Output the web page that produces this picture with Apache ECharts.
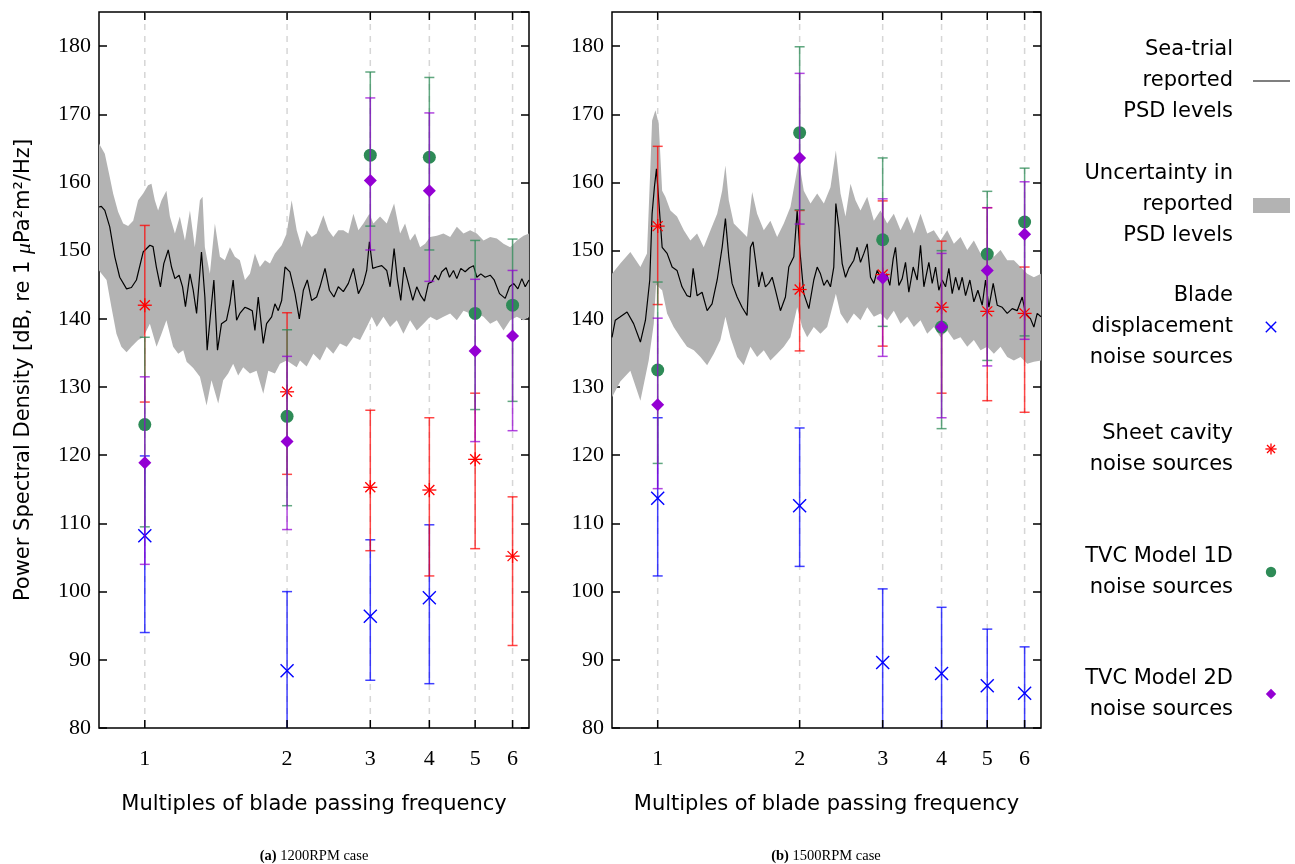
<!DOCTYPE html>
<html>
<head>
<meta charset="utf-8">
<script src="https://cdn.jsdelivr.net/npm/echarts@6.0.0/dist/echarts.min.js"></script>
<style>
html,body{margin:0;padding:0;background:#ffffff;}
#chart{width:1295px;height:864px;}
</style>
</head>
<body>
<div id="chart"></div>
<script>
// ---------------- DATA ----------------
const harmonics = [1, 2, 3, 4, 5, 6];
const yTickValues = [80, 90, 100, 110, 120, 130, 140, 150, 160, 170, 180];
const panelCaptions = ['1200RPM case', '1500RPM case'];
const legendLabels = [
  'Sea-trial\nreported\nPSD levels',
  'Uncertainty in\nreported\nPSD levels',
  'Blade\ndisplacement\nnoise sources',
  'Sheet cavity\nnoise sources',
  'TVC Model 1D\nnoise sources',
  'TVC Model 2D\nnoise sources'
];

// (a) 1200 RPM : sea-trial PSD  [multiple of BPF, dB]
const psdA = [[0.800,156.4],[0.809,156.5],[0.823,155.9],[0.843,153.5],[0.864,149.1],[0.885,146.1],[0.915,144.4],[0.937,144.6],[0.960,145.7],[0.992,149.8],[1.025,150.8],[1.041,150.6],[1.058,147.6],[1.079,144.7],[1.097,148.1],[1.121,150.1],[1.139,147.6],[1.158,145.9],[1.182,146.4],[1.202,144.7],[1.219,141.8],[1.246,146.6],[1.266,144.2],[1.287,140.8],[1.318,149.8],[1.340,143.2],[1.355,135.4],[1.378,140.8],[1.400,145.7],[1.425,135.4],[1.453,139.3],[1.489,139.8],[1.514,142.2],[1.538,145.7],[1.564,139.8],[1.589,140.8],[1.628,141.7],[1.655,141.5],[1.688,141.2],[1.710,138.3],[1.738,143.2],[1.781,136.4],[1.810,139.3],[1.855,140.3],[1.885,142.2],[1.916,141.2],[1.948,142.7],[1.980,147.6],[2.028,146.9],[2.079,143.7],[2.123,140.0],[2.165,144.2],[2.207,145.7],[2.254,142.7],[2.310,143.2],[2.348,144.7],[2.406,147.4],[2.458,144.2],[2.513,143.2],[2.567,144.7],[2.631,144.0],[2.696,145.2],[2.763,147.4],[2.831,143.7],[2.901,145.2],[2.948,147.1],[2.987,151.3],[3.036,147.4],[3.096,147.6],[3.172,147.8],[3.250,147.1],[3.304,144.7],[3.369,150.3],[3.424,145.7],[3.480,142.7],[3.537,147.6],[3.612,145.2],[3.690,142.7],[3.762,144.7],[3.836,143.4],[3.906,142.6],[3.982,145.2],[4.048,145.4],[4.114,146.4],[4.182,145.7],[4.250,146.9],[4.341,147.5],[4.412,146.1],[4.499,147.1],[4.573,145.9],[4.663,147.4],[4.762,146.9],[4.864,147.5],[4.960,147.8],[5.041,146.1],[5.140,146.6],[5.250,146.1],[5.380,146.4],[5.486,145.7],[5.630,143.7],[5.788,143.0],[5.912,144.7],[6.028,145.2],[6.157,144.4],[6.278,145.9],[6.381,144.7],[6.499,145.7]];
const bandUpperA = [[0.800,165.7],[0.823,164.2],[0.843,160.8],[0.857,158.4],[0.878,155.7],[0.900,154.0],[0.922,153.6],[0.945,154.4],[0.968,157.4],[0.992,158.4],[1.016,159.6],[1.033,159.8],[1.050,157.4],[1.067,155.9],[1.085,157.4],[1.111,158.8],[1.130,155.0],[1.158,152.5],[1.186,155.0],[1.216,151.5],[1.246,155.9],[1.276,150.5],[1.308,157.4],[1.325,157.9],[1.340,150.5],[1.373,146.6],[1.407,154.0],[1.442,149.1],[1.477,148.6],[1.514,150.5],[1.551,149.1],[1.589,148.6],[1.629,145.7],[1.669,146.6],[1.710,149.6],[1.752,147.6],[1.796,148.6],[1.840,148.1],[1.885,149.6],[1.948,150.8],[1.996,152.5],[2.045,157.4],[2.096,153.0],[2.147,150.5],[2.200,153.0],[2.255,152.0],[2.310,152.5],[2.387,155.2],[2.446,153.0],[2.505,152.0],[2.567,153.0],[2.631,153.0],[2.696,152.5],[2.763,155.4],[2.831,153.0],[2.901,154.0],[2.987,155.4],[3.046,154.0],[3.146,155.0],[3.250,154.0],[3.369,156.9],[3.469,152.5],[3.554,154.0],[3.642,151.5],[3.732,152.5],[3.824,150.5],[3.918,151.0],[4.015,152.0],[4.148,152.2],[4.285,152.5],[4.427,152.0],[4.573,153.5],[4.724,152.5],[4.880,153.0],[5.041,152.5],[5.208,151.5],[5.380,152.0],[5.558,151.8],[5.741,151.0],[5.931,150.5],[6.127,151.5],[6.330,152.2],[6.499,152.5]];
const bandLowerA = [[0.800,147.1],[0.830,145.7],[0.850,141.7],[0.871,137.8],[0.892,135.9],[0.915,135.1],[0.937,135.9],[0.968,136.9],[0.992,137.3],[1.025,139.3],[1.059,135.9],[1.085,137.8],[1.111,139.8],[1.148,135.9],[1.177,134.9],[1.206,135.4],[1.226,133.7],[1.266,132.8],[1.308,131.5],[1.351,127.3],[1.384,131.0],[1.430,127.6],[1.465,131.0],[1.501,132.0],[1.538,133.4],[1.576,131.7],[1.615,132.9],[1.669,132.0],[1.724,132.4],[1.781,129.0],[1.825,132.4],[1.885,132.0],[1.932,133.4],[1.996,133.9],[2.096,132.9],[2.130,133.9],[2.200,133.0],[2.273,134.9],[2.348,133.9],[2.426,135.9],[2.505,134.9],[2.588,136.4],[2.674,135.9],[2.763,137.3],[2.854,136.9],[2.948,138.8],[3.021,140.3],[3.096,138.8],[3.198,140.3],[3.304,138.8],[3.413,139.8],[3.525,137.8],[3.642,139.8],[3.762,138.3],[3.887,139.3],[4.015,140.3],[4.148,139.8],[4.285,140.3],[4.427,140.8],[4.573,139.8],[4.724,141.2],[4.880,140.8],[5.041,140.8],[5.208,140.3],[5.380,139.3],[5.558,139.8],[5.741,138.3],[5.931,139.8],[6.127,140.3],[6.330,139.8],[6.499,140.3]];
// model predictions: [multiple, level dB, lower bound, upper bound]
const bladeA = [[1,108.2,94.0,119.9],[2,88.4,74.5,100.0],[3,96.4,87.0,107.6],[4,99.1,86.5,109.8]];
const sheetA = [[1,142.0,127.8,153.7],[2,129.3,117.2,140.9],[3,115.3,106.0,126.6],[4,114.9,102.3,125.5],[5,119.4,106.3,129.1],[6,105.2,92.1,113.9]];
const tvc1dA = [[1,124.5,109.5,137.3],[2,125.7,112.6,138.4],[3,164.0,153.6,176.2],[4,163.7,150.1,175.4],[5,140.8,126.7,151.5],[6,142.0,127.9,151.7]];
const tvc2dA = [[1,118.9,104.0,131.5],[2,122.0,109.1,134.5],[3,160.3,150.1,172.4],[4,158.8,145.5,170.2],[5,135.3,122.0,145.8],[6,137.5,123.6,147.1]];

// (b) 1500 RPM
const psdB = [[0.800,137.3],[0.813,139.8],[0.833,140.3],[0.861,141.0],[0.889,139.3],[0.919,136.6],[0.942,139.8],[0.962,145.7],[0.973,155.4],[0.984,159.3],[0.994,162.0],[1.005,157.4],[1.022,150.5],[1.047,149.6],[1.073,147.6],[1.099,147.1],[1.126,144.7],[1.154,143.4],[1.173,143.2],[1.189,147.4],[1.212,143.4],[1.242,143.9],[1.273,141.2],[1.304,142.2],[1.337,145.7],[1.370,150.5],[1.392,154.7],[1.415,149.1],[1.438,145.2],[1.474,143.2],[1.510,141.7],[1.547,140.5],[1.573,150.5],[1.593,151.3],[1.612,148.6],[1.638,144.7],[1.665,146.9],[1.692,144.7],[1.720,145.2],[1.749,146.1],[1.777,144.2],[1.821,141.2],[1.866,143.2],[1.897,147.6],[1.944,149.1],[1.976,155.9],[2.002,150.1],[2.041,143.7],[2.092,141.5],[2.143,145.7],[2.179,147.6],[2.214,146.6],[2.251,144.9],[2.288,145.7],[2.325,144.7],[2.363,147.6],[2.387,156.9],[2.422,153.5],[2.462,148.1],[2.502,146.1],[2.543,147.4],[2.606,148.6],[2.649,150.5],[2.692,148.3],[2.737,149.6],[2.782,151.0],[2.827,146.1],[2.874,145.2],[2.921,147.1],[3.002,145.4],[3.057,146.6],[3.107,144.9],[3.158,148.8],[3.194,150.5],[3.247,144.9],[3.300,145.9],[3.354,148.3],[3.409,143.9],[3.482,147.6],[3.551,145.7],[3.609,150.8],[3.669,144.7],[3.759,148.3],[3.821,145.2],[3.884,147.6],[3.947,144.2],[4.012,145.7],[4.078,144.7],[4.145,147.4],[4.213,143.7],[4.282,146.1],[4.353,144.2],[4.424,146.1],[4.497,143.4],[4.593,145.7],[4.683,142.5],[4.776,144.2],[4.878,142.0],[4.958,145.7],[5.039,141.7],[5.147,145.2],[5.249,142.0],[5.378,141.7],[5.512,140.8],[5.648,141.5],[5.787,141.2],[5.930,143.2],[6.028,140.8],[6.177,140.0],[6.278,138.8],[6.381,140.8],[6.500,140.3]];
const bandUpperB = [[0.800,146.6],[0.833,148.1],[0.875,149.8],[0.919,147.6],[0.949,149.6],[0.965,162.3],[0.973,169.1],[0.989,170.6],[1.005,168.6],[1.022,158.8],[1.038,157.9],[1.064,155.9],[1.099,155.0],[1.136,153.0],[1.173,151.5],[1.212,152.5],[1.252,150.5],[1.294,153.0],[1.337,155.4],[1.370,158.8],[1.392,162.5],[1.415,157.4],[1.450,154.0],[1.498,153.0],[1.547,152.0],[1.586,158.6],[1.625,155.4],[1.679,153.0],[1.734,154.4],[1.792,152.0],[1.851,154.0],[1.912,156.4],[1.992,163.2],[2.041,158.8],[2.109,156.9],[2.179,158.4],[2.251,156.9],[2.325,159.3],[2.387,164.7],[2.442,158.4],[2.502,155.0],[2.564,159.8],[2.627,157.4],[2.692,155.9],[2.782,157.9],[2.874,154.4],[2.968,155.9],[3.067,154.0],[3.168,155.4],[3.273,153.0],[3.382,155.0],[3.494,152.5],[3.609,155.4],[3.729,152.5],[3.852,153.0],[3.980,151.5],[4.111,153.0],[4.248,151.0],[4.388,152.0],[4.534,150.1],[4.683,151.5],[4.839,149.6],[5.000,150.5],[5.164,149.1],[5.335,150.1],[5.512,148.6],[5.694,148.6],[5.883,147.6],[6.077,146.6],[6.278,146.1],[6.500,146.6]];
const bandLowerB = [[0.800,128.5],[0.833,130.8],[0.875,132.4],[0.919,128.0],[0.957,133.9],[0.981,139.3],[0.992,145.0],[1.022,144.2],[1.047,140.8],[1.081,138.8],[1.117,137.3],[1.154,135.9],[1.193,135.4],[1.232,134.4],[1.273,133.2],[1.315,134.9],[1.358,136.9],[1.392,140.3],[1.426,137.3],[1.474,134.4],[1.522,133.2],[1.573,135.9],[1.625,134.4],[1.679,135.4],[1.734,133.9],[1.792,134.9],[1.851,135.9],[1.912,137.3],[1.976,141.7],[2.025,138.8],[2.075,137.3],[2.143,138.8],[2.214,137.8],[2.288,138.8],[2.387,143.7],[2.442,140.8],[2.523,139.3],[2.606,140.8],[2.692,139.8],[2.782,141.7],[2.874,140.3],[2.968,140.8],[3.067,139.8],[3.168,141.2],[3.273,139.3],[3.382,140.3],[3.494,138.8],[3.609,139.8],[3.729,137.8],[3.852,138.8],[3.980,137.3],[4.111,138.3],[4.248,136.9],[4.388,137.3],[4.534,135.9],[4.683,136.9],[4.839,135.4],[5.000,135.9],[5.164,134.9],[5.335,135.9],[5.512,134.4],[5.694,133.9],[5.883,134.4],[6.077,133.4],[6.278,133.7],[6.500,133.9]];
const bladeB = [[1,113.7,102.3,125.5],[2,112.6,103.7,124.0],[3,89.6,75.5,100.4],[4,88.0,76.5,97.7],[5,86.2,76.0,94.5],[6,85.1,76.5,91.9]];
const sheetB = [[1,153.6,142.1,165.3],[2,144.3,135.3,155.9],[3,146.5,136.0,157.3],[4,141.7,129.1,151.4],[5,141.1,128.0,156.3],[6,140.8,126.3,147.6]];
const tvc1dB = [[1,132.5,118.8,145.4],[2,167.3,156.0,179.9],[3,151.6,138.9,163.6],[4,138.8,123.9,150.0],[5,149.5,133.9,158.7],[6,154.2,137.5,162.1]];
const tvc2dB = [[1,127.4,115.1,140.1],[2,163.6,153.9,176.0],[3,146.0,134.5,157.6],[4,138.8,125.5,149.6],[5,147.1,133.1,156.3],[6,152.4,137.0,160.1]];

// ---------------- STYLE ----------------
const SERIF = "'Liberation Serif', 'DejaVu Serif', serif";
const SANS = "'DejaVu Sans', sans-serif";
const Y_MIN = 80, Y_MAX = 185, X_MIN = 0.8, X_MAX = 6.5;
const C_BLUE = '#0000ff', C_RED = '#ff0000', C_GREEN = '#2e8b57', C_PURPLE = '#9400d3';
const BAND = '#b3b3b3';

// marker drawers (return zrender element options); k = size factor
function mkCross(x, y, c, k) {
  k = k || 1;
  const s = 6.5 * k, st = {stroke: c, lineWidth: 1.4};
  return [
    {type: 'line', shape: {x1: x - s, y1: y - s, x2: x + s, y2: y + s}, style: st},
    {type: 'line', shape: {x1: x - s, y1: y + s, x2: x + s, y2: y - s}, style: st}
  ];
}
function mkStar(x, y, c, k) {
  k = k || 1;
  const s = 7 * k, d = 5 * k, st = {stroke: c, lineWidth: 1.3};
  return [
    {type: 'line', shape: {x1: x - s, y1: y, x2: x + s, y2: y}, style: st},
    {type: 'line', shape: {x1: x, y1: y - s, x2: x, y2: y + s}, style: st},
    {type: 'line', shape: {x1: x - d, y1: y - d, x2: x + d, y2: y + d}, style: st},
    {type: 'line', shape: {x1: x - d, y1: y + d, x2: x + d, y2: y - d}, style: st}
  ];
}
function mkCircle(x, y, c, k) {
  k = k || 1;
  return [{type: 'circle', shape: {cx: x, cy: y, r: 6.5 * k}, style: {fill: c}}];
}
function mkDiamond(x, y, c, k) {
  k = k || 1;
  const s = 6.5 * k;
  return [{type: 'polygon', shape: {points: [[x, y - s], [x + s, y], [x, y + s], [x - s, y]]}, style: {fill: c}}];
}

function errRender(marker, barColor, markColor) {
  return function (params, api) {
    const xv = api.value(0);
    const c = api.coord([xv, api.value(1)]);
    const lo = api.coord([xv, api.value(2)]);
    const hi = api.coord([xv, api.value(3)]);
    const w = 5;
    const bs = {stroke: barColor, lineWidth: 1.5};
    const children = [
      {type: 'line', shape: {x1: c[0], y1: lo[1], x2: c[0], y2: hi[1]}, style: bs},
      {type: 'line', shape: {x1: c[0] - w, y1: lo[1], x2: c[0] + w, y2: lo[1]}, style: bs},
      {type: 'line', shape: {x1: c[0] - w, y1: hi[1], x2: c[0] + w, y2: hi[1]}, style: bs}
    ].concat(marker(c[0], c[1], markColor, 1));
    return {type: 'group', children: children};
  };
}

function bandRender(upper, lower) {
  return function (params, api) {
    if (params.dataIndex !== 0) return null;
    const pts = upper.map(p => api.coord(p)).concat(lower.slice().reverse().map(p => api.coord(p)));
    return {type: 'polygon', shape: {points: pts}, style: {fill: BAND}};
  };
}

function gridLineRender(params, api) {
  const cs = params.coordSys;
  const x = api.coord([api.value(0), Y_MIN])[0];
  return {type: 'line', shape: {x1: x, y1: cs.y, x2: x, y2: cs.y + cs.height},
    style: {stroke: '#d6d6d6', lineWidth: 1.5, lineDash: [6, 6]}};
}

function tickRender(params, api) {
  const cs = params.coordSys;
  const v = api.value(0);
  const x = api.coord([v, Y_MIN])[0];
  const top = cs.y, bottom = cs.y + cs.height;
  const st = {stroke: '#000', lineWidth: 1.5};
  return {type: 'group', children: [
    {type: 'line', shape: {x1: x, y1: bottom, x2: x, y2: bottom - 8}, style: st},
    {type: 'line', shape: {x1: x, y1: top, x2: x, y2: top + 8}, style: st},
    {type: 'text', x: x, y: bottom + 31, style: {text: String(v), fontFamily: SERIF, fontSize: 22, fill: '#000', align: 'center', verticalAlign: 'middle'}}
  ]};
}

// ---------------- OPTION ----------------
const grids = [
  {left: 99, top: 12, width: 430, height: 716},
  {left: 612, top: 12, width: 429, height: 716}
];

const xAxes = [0, 1].map(i => ({
  type: 'log', logBase: 10, gridIndex: i, min: X_MIN, max: X_MAX,
  axisLine: {show: false}, axisTick: {show: false}, axisLabel: {show: false}, splitLine: {show: false},
  name: 'Multiples of blade passing frequency', nameLocation: 'middle', nameGap: 66,
  nameTextStyle: {fontFamily: SANS, fontSize: 21, color: '#000'}
}));

const yAxes = [];
[0, 1].forEach(i => {
  yAxes.push({
    type: 'value', gridIndex: i, position: 'left', min: Y_MIN, max: Y_MAX, interval: 10,
    axisLine: {show: false},
    axisTick: {show: true, inside: true, length: 8, lineStyle: {color: '#000', width: 1.5}},
    axisLabel: {show: true, showMaxLabel: false, margin: 8, fontFamily: SERIF, fontSize: 22, color: '#000',
      formatter: v => (yTickValues.indexOf(v) >= 0 ? String(v) : '')},
    splitLine: {show: false},
    name: i === 0 ? 'Power Spectral Density [dB, re 1 {i|μ}Pa²m²/Hz]' : '',
    nameLocation: 'middle', nameRotate: 90, nameGap: 64,
    nameTextStyle: {fontFamily: SANS, fontSize: 21, color: '#000', rich: {i: {fontFamily: SERIF, fontStyle: 'italic', fontSize: 22, color: '#000'}}}
  });
});
[0, 1].forEach(i => {
  yAxes.push({
    type: 'value', gridIndex: i, position: 'right', min: Y_MIN, max: Y_MAX, interval: 10,
    axisLine: {show: false},
    axisTick: {show: true, inside: true, length: 8, lineStyle: {color: '#000', width: 1.5}},
    axisLabel: {show: false}, splitLine: {show: false}
  });
});

const series = [];
const panels = [
  {psd: psdA, up: bandUpperA, lo: bandLowerA, blade: bladeA, sheet: sheetA, t1: tvc1dA, t2: tvc2dA},
  {psd: psdB, up: bandUpperB, lo: bandLowerB, blade: bladeB, sheet: sheetB, t1: tvc1dB, t2: tvc2dB}
];
panels.forEach((p, i) => {
  const ax = {xAxisIndex: i, yAxisIndex: i};
  series.push(Object.assign({type: 'custom', name: 'grid' + i, z: 1, silent: true,
    renderItem: gridLineRender, data: harmonics.map(h => [h]), encode: {x: 0}}, ax));
  series.push(Object.assign({type: 'custom', name: 'Uncertainty in reported PSD levels', z: 2, silent: true, clip: true,
    renderItem: bandRender(p.up, p.lo), data: p.up, encode: {x: 0, y: 1}}, ax));
  series.push(Object.assign({type: 'line', name: 'Sea-trial reported PSD levels', z: 3, silent: true, clip: true,
    data: p.psd, showSymbol: false, symbol: 'none', lineStyle: {color: '#000', width: 1.2}, itemStyle: {color: '#000'}}, ax));
  series.push(Object.assign({type: 'custom', name: 'Blade displacement noise sources', z: 4, clip: true,
    renderItem: errRender(mkCross, 'rgba(0,0,255,0.75)', C_BLUE), data: p.blade, encode: {x: 0, y: 1}}, ax));
  series.push(Object.assign({type: 'custom', name: 'Sheet cavity noise sources', z: 5, clip: true,
    renderItem: errRender(mkStar, 'rgba(255,0,0,0.72)', C_RED), data: p.sheet, encode: {x: 0, y: 1}}, ax));
  series.push(Object.assign({type: 'custom', name: 'TVC Model 1D noise sources', z: 6, clip: true,
    renderItem: errRender(mkCircle, 'rgba(46,139,87,0.75)', C_GREEN), data: p.t1, encode: {x: 0, y: 1}}, ax));
  series.push(Object.assign({type: 'custom', name: 'TVC Model 2D noise sources', z: 7, clip: true,
    renderItem: errRender(mkDiamond, 'rgba(148,0,211,0.72)', C_PURPLE), data: p.t2, encode: {x: 0, y: 1}}, ax));
  series.push(Object.assign({type: 'custom', name: 'ticks' + i, z: 10, silent: true,
    renderItem: tickRender, data: harmonics.map(h => [h]), encode: {x: 0}}, ax));
});

// legend (drawn as graphic text + symbols)
const LX_TEXT = 1233, LX_SYM = 1271;
const legendY = [81, 205, 327, 449, 572, 694];
const graphic = [];
legendLabels.forEach((t, k) => {
  graphic.push({type: 'text', x: LX_TEXT, y: legendY[k], silent: true,
    style: {text: t, fontFamily: SANS, fontSize: 21, lineHeight: 31, fill: '#000', align: 'right', verticalAlign: 'middle'}});
});
graphic.push({type: 'line', silent: true, shape: {x1: 1253, y1: legendY[0], x2: 1290, y2: legendY[0]}, style: {stroke: '#000', lineWidth: 1.2}});
graphic.push({type: 'rect', silent: true, shape: {x: 1253, y: legendY[1] - 7, width: 37, height: 15}, style: {fill: BAND}});
[[mkCross, C_BLUE], [mkStar, C_RED], [mkCircle, C_GREEN], [mkDiamond, C_PURPLE]].forEach((m, k) => {
  m[0](LX_SYM, legendY[k + 2], m[1], 0.8).forEach(el => { el.silent = true; graphic.push(el); });
});
// captions
[314, 826].forEach((cx, k) => {
  graphic.push({type: 'text', x: cx, y: 856, silent: true,
    style: {text: '{b|(' + (k === 0 ? 'a' : 'b') + ')} ' + panelCaptions[k], fontFamily: SERIF, fontSize: 14.5, fill: '#000',
      align: 'center', verticalAlign: 'middle',
      rich: {b: {fontFamily: SERIF, fontSize: 14.5, fontWeight: 'bold', fill: '#000'}}}});
});

const option = {
  backgroundColor: '#ffffff',
  animation: false,
  grid: grids.map(g => Object.assign({show: true, borderColor: '#000', borderWidth: 1.5, backgroundColor: 'transparent'}, g)),
  xAxis: xAxes,
  yAxis: yAxes,
  series: series,
  graphic: graphic
};

const chart = echarts.init(document.getElementById('chart'), null, {renderer: 'canvas'});
chart.setOption(option);
</script>
</body>
</html>
